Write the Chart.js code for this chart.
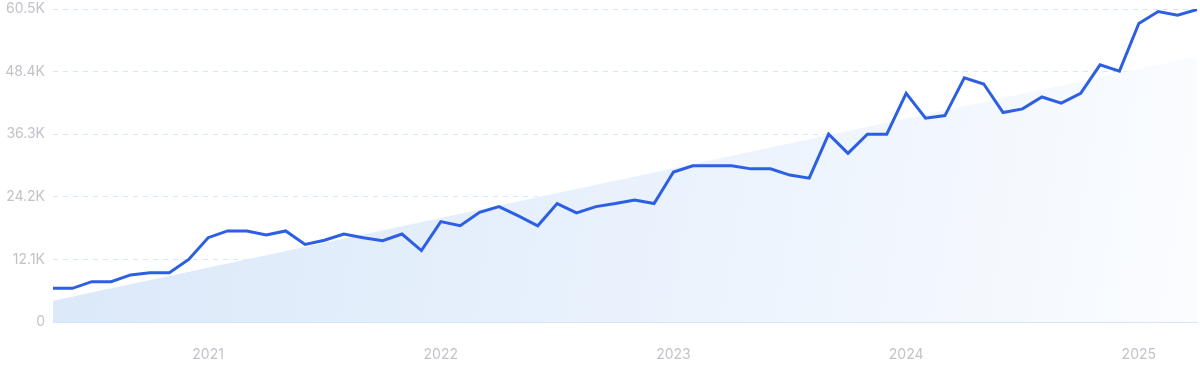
<!DOCTYPE html>
<html>
<head>
<meta charset="utf-8">
<script src="https://cdn.jsdelivr.net/npm/chart.js@4/dist/chart.umd.min.js"></script>
<style>
    html, body { margin: 0; padding: 0; background: #fff; }
    #wrap { width: 1200px; height: 371px; position: relative; }
</style>
</head>
<body>
<div id="wrap"><canvas id="chart-trend"></canvas></div>
<script>
// months May 2020 .. Apr 2025
var months = [
    '2020-05', '2020-06', '2020-07', '2020-08', '2020-09', '2020-10', '2020-11', '2020-12',
    '2021-01', '2021-02', '2021-03', '2021-04', '2021-05', '2021-06', '2021-07', '2021-08', '2021-09', '2021-10', '2021-11', '2021-12',
    '2022-01', '2022-02', '2022-03', '2022-04', '2022-05', '2022-06', '2022-07', '2022-08', '2022-09', '2022-10', '2022-11', '2022-12',
    '2023-01', '2023-02', '2023-03', '2023-04', '2023-05', '2023-06', '2023-07', '2023-08', '2023-09', '2023-10', '2023-11', '2023-12',
    '2024-01', '2024-02', '2024-03', '2024-04', '2024-05', '2024-06', '2024-07', '2024-08', '2024-09', '2024-10', '2024-11', '2024-12',
    '2025-01', '2025-02', '2025-03', '2025-04'
];
// search volume, thousands
var volume = [
    6.5, 6.5, 7.8, 7.8, 9.1, 9.5, 9.5, 12.1,
    16.3, 17.6, 17.6, 16.8, 17.6, 15.0, 15.8, 17.0, 16.3, 15.7, 17.0, 13.8,
    19.4, 18.6, 21.2, 22.3, 20.5, 18.6, 22.9, 21.1, 22.3, 22.9, 23.6, 22.9,
    29.0, 30.2, 30.2, 30.2, 29.6, 29.6, 28.4, 27.8, 36.3, 32.6, 36.3, 36.3,
    44.2, 39.4, 39.9, 47.2, 46.0, 40.5, 41.2, 43.5, 42.3, 44.2, 49.7, 48.5,
    57.7, 60.0, 59.3, 60.4
];
// trend area ends (thousands)
var trendEnds = [4.1, 51.3];
var yTicks = [0, 12.1, 24.2, 36.3, 48.4, 60.5];

var trend = months.map(function(m, i) {
    if (i === 0) return trendEnds[0];
    if (i === months.length - 1) return trendEnds[1];
    return null;
});

function areaFill(context) {
    var chart = context.chart;
    var area = chart.chartArea;
    if (!area) return 'rgba(221,233,249,0.9)';
    var g = chart.ctx.createLinearGradient(area.left, area.top, area.right, area.bottom - 120);
    g.addColorStop(0, 'rgba(219,232,249,1)');
    g.addColorStop(0.5, 'rgba(232,241,252,1)');
    g.addColorStop(1, 'rgba(250,252,255,1)');
    return g;
}

var $chart = document.getElementById('chart-trend');
var trendChart = new Chart($chart, {
    type: 'line',
    data: {
        labels: months,
        datasets: [{
            label: 'Volume',
            data: volume,
            borderColor: '#2d5fe3',
            borderWidth: 3,
            pointRadius: 0,
            tension: 0,
            fill: false,
            order: 0
        }, {
            label: 'Trend',
            data: trend,
            spanGaps: true,
            borderWidth: 0,
            borderColor: 'rgba(0,0,0,0)',
            backgroundColor: areaFill,
            pointRadius: 0,
            fill: 'origin',
            order: 1
        }]
    },
    options: {
        responsive: true,
        maintainAspectRatio: false,
        animation: false,
        layout: { padding: { top: 9, right: 3, left: 0, bottom: 0 } },
        plugins: { legend: { display: false }, tooltip: { enabled: false } },
        scales: {
            x: {
                offset: false,
                grid: { display: false },
                border: { display: true, color: '#d3e6fa', width: 1 },
                ticks: {
                    autoSkip: false,
                    maxRotation: 0,
                    padding: 16,
                    color: '#c2c2ca',
                    font: { family: 'Inter', size: 14 },
                    callback: function(v, i) {
                        var m = months[i];
                        return m.slice(5) === '01' ? m.slice(0, 4) : '';
                    }
                },
                afterFit: function(scale) {
                    scale.height = 49;
                    scale.paddingLeft = 0;
                    scale.paddingRight = 0;
                }
            },
            y: {
                min: 0,
                max: 60.5,
                afterBuildTicks: function(scale) {
                    scale.ticks = yTicks.map(function(v) { return { value: v }; });
                },
                grid: { color: '#d8e8fb', lineWidth: 1, drawTicks: false },
                border: { display: false, dash: [5, 5] },
                ticks: {
                    padding: 8,
                    color: '#c2c2ca',
                    font: { family: 'Inter', size: 14 },
                    callback: function(v) { return v === 0 ? '0' : v.toFixed(1) + 'K'; }
                },
                afterFit: function(scale) {
                    scale.width = 53;
                    scale.paddingTop = 0;
                    scale.paddingBottom = 0;
                }
            }
        }
    }
});
</script>
</body>
</html>
